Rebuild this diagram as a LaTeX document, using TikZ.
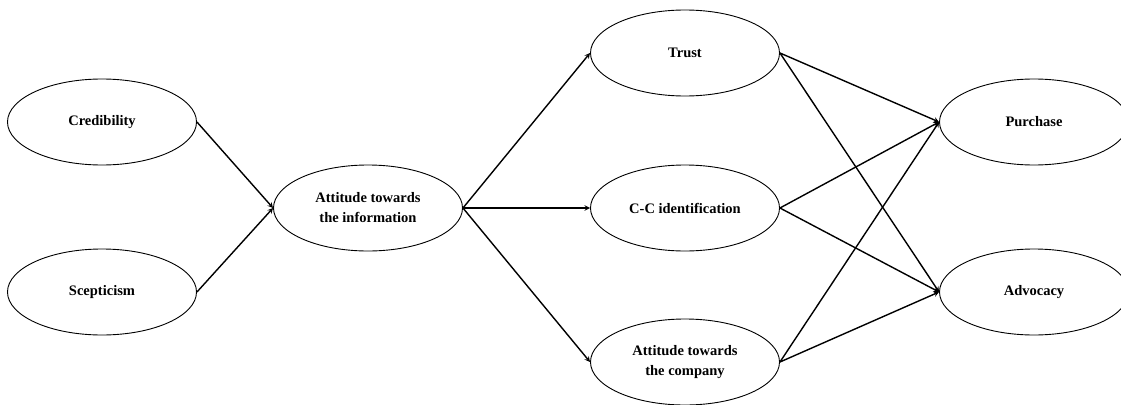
\documentclass[tikz,border=0pt]{standalone}
\usepackage{fontspec}
\setmainfont{Liberation Serif}
\usetikzlibrary{shapes.geometric}

\tikzset{
  construct/.style={ellipse, draw, line width=0.9pt, minimum width=189pt, minimum height=86pt,
    inner sep=0pt, align=center, font=\fontsize{14.5}{20}\selectfont\bfseries},
  path/.style={->, line width=1.4pt}
}

\begin{document}
\begin{tikzpicture}[>=stealth, x=1pt, y=-1pt]
    \useasboundingbox (0,0) rectangle (1121,404);

    % Constructs, left to right
    \node[construct] (cred) at (102, 122) {Credibility};
    \node[construct] (scep) at (102, 292) {Scepticism};
    \node[construct] (info) at (368, 208) {Attitude towards\\the information};
    \node[construct] (trust) at (685, 53) {Trust};
    \node[construct] (ccid) at (685, 208) {C-C identification};
    \node[construct] (comp) at (685, 362) {Attitude towards\\the company};
    \node[construct] (purch) at (1034, 122) {Purchase};
    \node[construct] (advo) at (1034, 292) {Advocacy};

    % Paths
    \draw[path] (cred.east) -- (info.west);
    \draw[path] (scep.east) -- (info.west);
    \draw[path] (info.east) -- (trust.west);
    \draw[path] (info.east) -- (ccid.west);
    \draw[path] (info.east) -- (comp.west);
    \draw[path] (trust.east) -- (purch.west);
    \draw[path] (trust.east) -- (advo.west);
    \draw[path] (ccid.east) -- (purch.west);
    \draw[path] (ccid.east) -- (advo.west);
    \draw[path] (comp.east) -- (purch.west);
    \draw[path] (comp.east) -- (advo.west);
\end{tikzpicture}
\end{document}
